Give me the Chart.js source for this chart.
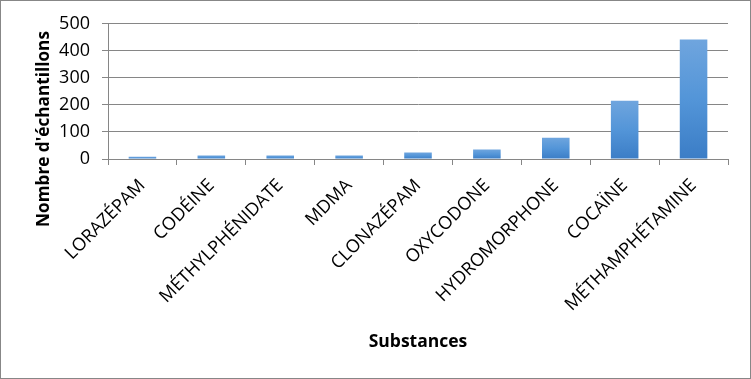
<!DOCTYPE html>
<html><head><meta charset="utf-8">
<script src="https://cdn.jsdelivr.net/npm/chart.js@4"></script>
<style>
html,body{margin:0;padding:0;background:#fff;}
#wrap{position:relative;width:751px;height:379px;box-sizing:border-box;border:1px solid #878787;background:#fff;}
canvas{display:block;}
</style></head><body>
<div id="wrap"><canvas id="c" width="749" height="377"></canvas></div>
<script>
const categories = ['LORAZÉPAM','CODÉINE','MÉTHYLPHÉNIDATE','MDMA','CLONAZÉPAM','OXYCODONE','HYDROMORPHONE','COCAÏNE','MÉTHAMPHÉTAMINE'];
const sampleCounts = [8, 13, 13, 13, 24, 35, 79, 215, 442];
const yTickValues = [0, 100, 200, 300, 400, 500];
const yTitle = "Nombre d'échantillons";
const xTitle = 'Substances';

const GRID = '#868686';
const FONT = '"Open Sans", "Liberation Sans", sans-serif';

function barGradient(ctx) {
  const chart = ctx.chart;
  const y = chart.scales && chart.scales.y;
  if (!y || ctx.type !== 'data') return '#5b9bd5';
  const top = y.getPixelForValue(ctx.raw);
  const base = y.getPixelForValue(0);
  if (!isFinite(top) || !isFinite(base) || base - top < 1) return '#5b9bd5';
  const g = chart.ctx.createLinearGradient(0, top, 0, base);
  g.addColorStop(0, '#6fa5de');
  g.addColorStop(0.5, '#5395d8');
  g.addColorStop(1, '#3b7dc6');
  return g;
}

const yTitlePlugin = {
  id: 'yTitleRot',
  afterDraw(chart) {
    const c = chart.ctx;
    c.save();
    c.translate(48, 128);
    c.rotate(-Math.PI / 2);
    c.font = 'bold 17.2px ' + FONT;
    c.fillStyle = '#000';
    c.textAlign = 'center';
    c.textBaseline = 'alphabetic';
    c.fillText(yTitle, 0, 0);
    c.restore();
  }
};

new Chart(document.getElementById('c'), {
  type: 'bar',
  data: {
    labels: categories,
    datasets: [{
      data: sampleCounts,
      backgroundColor: barGradient,
      borderWidth: 0,
      barPercentage: 0.4,
      categoryPercentage: 1.0
    }]
  },
  options: {
    responsive: false,
    animation: false,
    devicePixelRatio: 1,
    layout: { padding: { left: 0, right: 22, top: 22, bottom: 21 } },
    plugins: { legend: { display: false }, tooltip: { enabled: false } },
    scales: {
      x: {
        grid: { display: true, drawOnChartArea: false, drawTicks: true, tickLength: 6, color: GRID, offset: true },
        border: { display: true, color: GRID },
        ticks: { autoSkip: false, minRotation: 45, maxRotation: 45, color: '#000', padding: 10, font: { family: FONT, size: 18 } },
        title: { display: true, text: xTitle, color: '#000', font: { family: FONT, size: 17.5, weight: 'bold' }, padding: { top: 0, bottom: 4 } },
        afterFit(s) { s.height = 198; }
      },
      y: {
        min: yTickValues[0],
        max: yTickValues[yTickValues.length - 1],
        afterBuildTicks(s) { s.ticks = yTickValues.map(v => ({ value: v })); },
        grid: { color: GRID, tickLength: 6, drawTicks: true },
        border: { display: true, color: GRID },
        ticks: { color: '#000', padding: 12, font: { family: FONT, size: 18 } },
        afterFit(s) { s.width = 107; }
      }
    }
  },
  plugins: [yTitlePlugin]
});
</script>
</body></html>
